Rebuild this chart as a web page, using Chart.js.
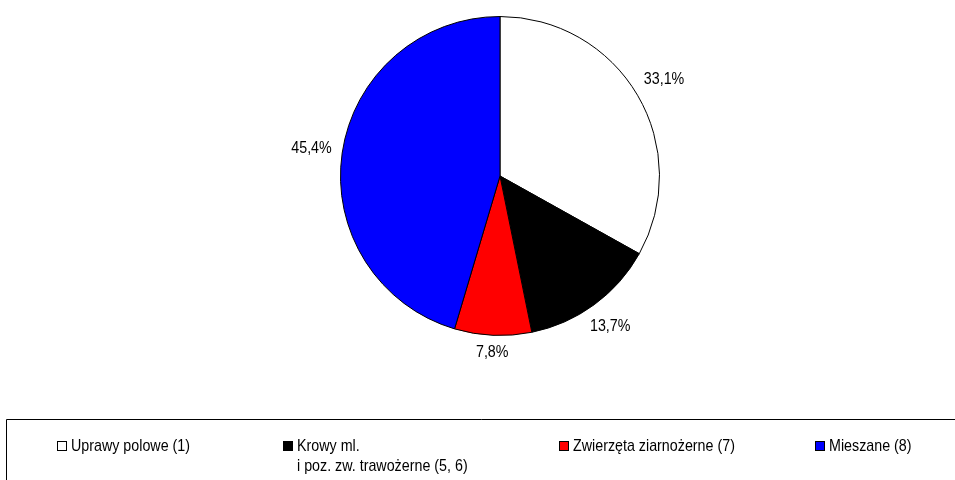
<!DOCTYPE html>
<html>
<head>
<meta charset="utf-8">
<script src="https://cdn.jsdelivr.net/npm/chart.js@4/dist/chart.umd.min.js"></script>
<style>
  html, body { margin: 0; padding: 0; background: #fff; }
  #wrap { position: relative; width: 955px; height: 480px; }
</style>
</head>
<body>
<div id="wrap"><canvas id="c" width="955" height="480"></canvas></div>
<script>
const categories = ["Uprawy polowe (1)", "Krowy ml.\ni poz. zw. trawożerne (5, 6)", "Zwierzęta ziarnożerne (7)", "Mieszane (8)"];
const shares = [33.1, 13.7, 7.8, 45.4];
const valueLabels = ["33,1%", "13,7%", "7,8%", "45,4%"];
const colors = ["#ffffff", "#000000", "#ff0000", "#0000ff"];
const legendX = [57, 283, 559, 815];

const FONT_PX = 17, SX = 0.84, FAMILY = "'Liberation Sans', Arial, sans-serif";

function textWidth(ctx, text) {
  ctx.save();
  ctx.font = FONT_PX + "px " + FAMILY;
  const w = ctx.measureText(text).width * SX;
  ctx.restore();
  return w;
}

function narrowText(ctx, text, x, y, align) {
  ctx.save();
  ctx.font = FONT_PX + "px " + FAMILY;
  ctx.textBaseline = "middle";
  const w = ctx.measureText(text).width * SX;
  let x0 = x;
  if (align === "center") x0 = x - w / 2;
  else if (align === "right") x0 = x - w;
  ctx.translate(x0, y);
  ctx.scale(SX, 1);
  ctx.textAlign = "left";
  ctx.fillStyle = "#000";
  ctx.fillText(text, 0, 0);
  ctx.restore();
}

const labelsPlugin = {
  id: "sliceLabels",
  afterDatasetsDraw(chart) {
    const ctx = chart.ctx;
    const meta = chart.getDatasetMeta(0);
    meta.data.forEach((arc, i) => {
      const p = arc.getProps(["x", "y", "startAngle", "endAngle", "outerRadius"], true);
      const mid = (p.startAngle + p.endAngle) / 2;
      const dx = Math.cos(mid), dy = Math.sin(mid);
      const w = textWidth(ctx, valueLabels[i]);
      const h = 13;
      const r = p.outerRadius + 10 + Math.abs(dx) * w / 2 + Math.abs(dy) * h / 2;
      narrowText(ctx, valueLabels[i], p.x + dx * r, p.y + dy * r, "center");
    });
  }
};

const legendPlugin = {
  id: "boxLegend",
  afterDraw(chart) {
    const ctx = chart.ctx;
    ctx.save();
    ctx.strokeStyle = "#000";
    ctx.lineWidth = 1;
    ctx.beginPath();
    ctx.moveTo(6.5, 490);
    ctx.lineTo(6.5, 419.5);
    ctx.lineTo(960, 419.5);
    ctx.stroke();
    const ty = 446;
    categories.forEach((name, i) => {
      const x = legendX[i];
      ctx.fillStyle = colors[i];
      ctx.fillRect(x, ty - 5, 10, 10);
      ctx.strokeStyle = "#000";
      ctx.lineWidth = 1;
      ctx.strokeRect(x + 0.5, ty - 4.5, 9, 9);
      const lines = name.split("\n");
      lines.forEach((ln, k) => narrowText(ctx, ln, x + 14, ty + k * 20, "left"));
    });
    ctx.restore();
  }
};

new Chart(document.getElementById("c"), {
  type: "pie",
  data: {
    labels: categories,
    datasets: [{
      data: shares,
      backgroundColor: colors,
      borderColor: "#000",
      borderWidth: 1
    }]
  },
  options: {
    responsive: false,
    animation: false,
    layout: { padding: { left: 340, right: 295, top: 16, bottom: 144 } },
    plugins: {
      legend: { display: false },
      tooltip: { enabled: false }
    }
  },
  plugins: [labelsPlugin, legendPlugin]
});
</script>
</body>
</html>
